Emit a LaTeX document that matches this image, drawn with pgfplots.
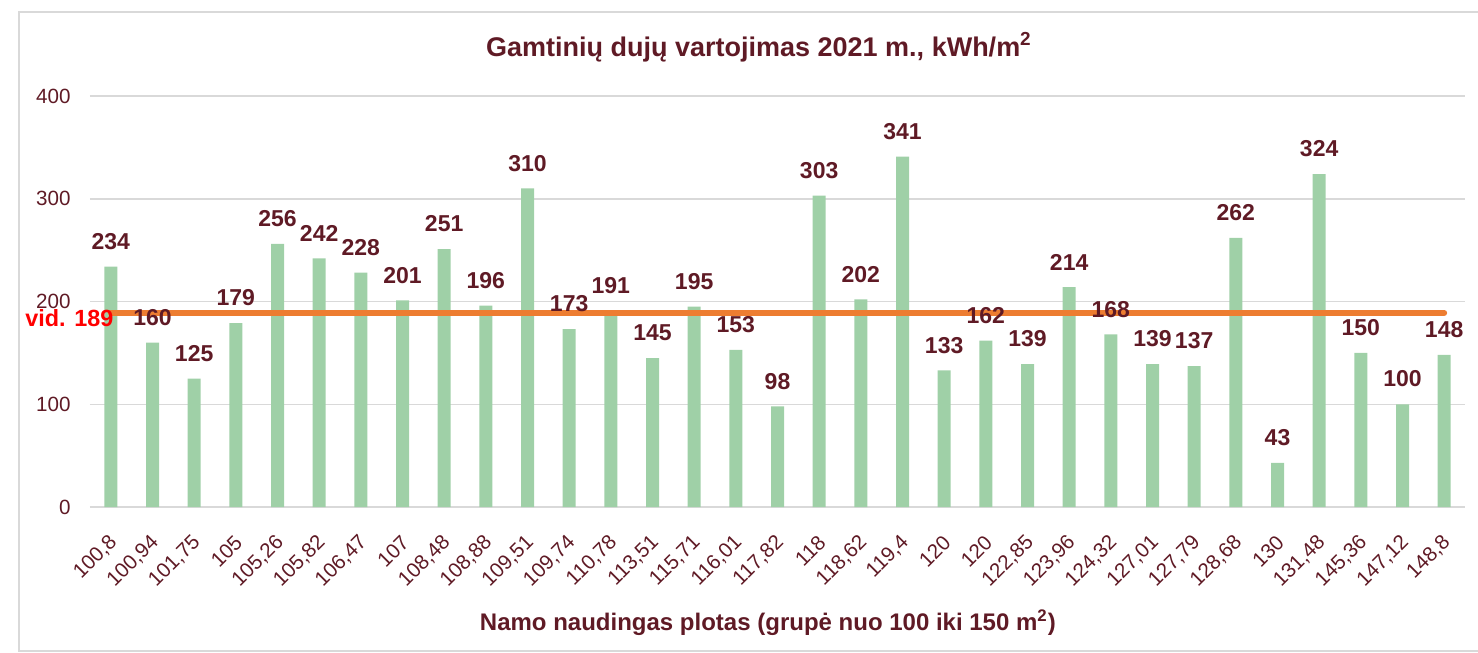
\documentclass[border=0pt]{standalone}
\usepackage{fontspec}
\setmainfont{Liberation Sans}
\usepackage{pgfplots}
\pgfplotsset{compat=1.18}

\definecolor{barfill}{HTML}{9FD0A7}
\definecolor{txt}{HTML}{5F1A25}
\definecolor{avgline}{HTML}{ED7D31}
\definecolor{gridgray}{HTML}{D9D9D9}

\begin{document}
\begin{tikzpicture}
% page size: 1478 x 653 px at 0.5bp per px, axis origin at px (90,507)
\useasboundingbox (-45bp,-73bp) rectangle (694bp,253.5bp);
\draw[gridgray, line width=0.75bp] (-35.5bp,-72bp) rectangle (700bp,247.5bp);
\begin{axis}[
  scale only axis,
  width=687.5bp, height=205.5bp,
  xmin=-0.5, xmax=32.5,
  ymin=0, ymax=400,
  ytick={0,100,200,300,400},
  xtick={0,...,32},
  xticklabels={{100,8},{100,94},{101,75},{105},{105,26},{105,82},{106,47},{107},{108,48},{108,88},{109,51},{109,74},{110,78},{113,51},{115,71},{116,01},{117,82},{118},{118,62},{119,4},{120},{120},{122,85},{123,96},{124,32},{127,01},{127,79},{128,68},{130},{131,48},{145,36},{147,12},{148,8}},
  /pgf/number format/assume math mode=true,
  axis line style={draw=none},
  axis x line*=bottom,
  x axis line style={draw=gridgray, line width=0.75bp},
  major tick length=0pt,
  ymajorgrids,
  grid style={gridgray, line width=0.75bp},
  tick label style={font=\fontsize{10.3bp}{12bp}\selectfont, text=txt},
  xticklabel style={inner sep=0pt, xshift=1.5bp, yshift=-16bp, rotate=45, anchor=east},
  yticklabel style={anchor=east, inner sep=0pt, xshift=-9.5bp},
  clip=false,
]
\addplot[ybar, bar width=6.5bp, fill=barfill, draw=none,
  nodes near coords={\pgfmathprintnumber[assume math mode=true]{\pgfplotspointmeta}},
  every node near coord/.style={font=\bfseries\fontsize{11.5bp}{13bp}\selectfont, text=txt, anchor=south, yshift=5bp},
] coordinates {
  (0,234) (1,160) (2,125) (3,179) (4,256) (5,242) (6,228) (7,201)
  (8,251) (9,196) (10,310) (11,173) (12,191) (13,145) (14,195) (15,153)
  (16,98) (17,303) (18,202) (19,341) (20,133) (21,162) (22,139) (23,214)
  (24,168) (25,139) (26,137) (27,262) (28,43) (29,324) (30,150) (31,100)
  (32,148)
};
\addplot[avgline, line width=3bp, line cap=round] coordinates {(0,189) (32,189)};
\node[anchor=east, inner sep=0pt, xshift=1.5bp, yshift=-2.5bp, text=red,
  font=\bfseries\fontsize{11.7bp}{13bp}\selectfont] at (axis cs:0,189) {vid. 189};
\node[anchor=center, inner sep=0pt, text=txt,
  font=\bfseries\fontsize{13.5bp}{15bp}\selectfont]
  at (axis description cs:0.4865,1.119) {Gamtinių dujų vartojimas 2021 m., kWh/m\textsuperscript{2}};
\node[anchor=center, inner sep=0pt, text=txt,
  font=\bfseries\fontsize{12bp}{14bp}\selectfont]
  at (axis description cs:0.493,-0.282) {Namo naudingas plotas (grupė nuo 100 iki 150 m\textsuperscript{2})};
\end{axis}
\end{tikzpicture}
\end{document}
